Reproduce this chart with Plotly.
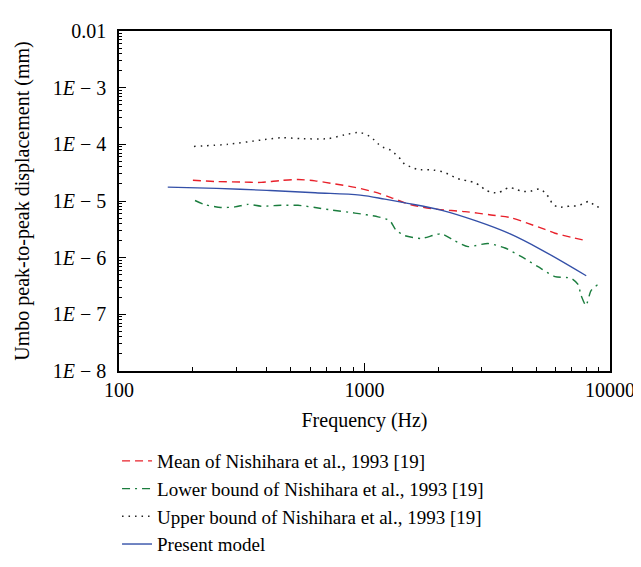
import plotly.graph_objects as go

# ---- data ----
mean_f = [200, 246, 314, 379, 457, 536, 629, 758, 915, 1104, 1282, 1546, 1993, 2566, 3274, 3950, 4634, 5434, 5970, 6940, 7980]
mean_v = [2.33e-5, 2.21e-5, 2.16e-5, 2.13e-5, 2.30e-5, 2.39e-5, 2.27e-5, 2.00e-5, 1.74e-5, 1.43e-5, 1.15e-5,
          8.6e-6, 7.1e-6, 6.5e-6, 5.67e-6, 5.06e-6, 4.03e-6, 3.15e-6, 2.7e-6, 2.29e-6, 2.0e-6]

lower_f = [204, 224, 260, 297, 335, 379, 457, 536, 629, 730, 915, 1135, 1270, 1343, 1462, 1699, 2050, 2337, 2642,
           3185, 3736, 4339, 5090, 5970, 6940, 7410, 7620, 7980, 8370, 8940]
lower_v = [1.02e-5, 8.6e-6, 7.67e-6, 7.88e-6, 8.73e-6, 8.1e-6, 8.4e-6, 8.4e-6, 7.67e-6, 6.95e-6, 6.12e-6, 5.26e-6,
           4.47e-6, 3.06e-6, 2.44e-6, 2.18e-6, 2.63e-6, 1.97e-6, 1.57e-6, 1.78e-6, 1.48e-6, 1.05e-6, 6.93e-7,
           4.63e-7, 4.34e-7, 3.38e-7, 2.17e-7, 1.43e-7, 2.62e-7, 3.38e-7]

upper_f = [202, 278, 379, 457, 551, 710, 857, 959, 1063, 1167, 1282, 1408, 1460, 1546, 1651, 1848, 2089, 2200,
           2337, 2480, 2642, 2800, 2953, 3100, 3274, 3497, 3700, 3900, 4140, 4420, 4722, 5000, 5236, 5500, 5700,
           5800, 6140, 6560, 6940, 7340, 7764, 8210, 8610, 9020]
upper_v = [9.2e-5, 1.0e-4, 1.19e-4, 1.31e-4, 1.26e-4, 1.26e-4, 1.52e-4, 1.62e-4, 1.34e-4, 9.2e-5, 7.8e-5, 5.4e-5,
           4.4e-5, 4.0e-5, 3.57e-5, 3.57e-5, 3.28e-5, 2.96e-5, 2.61e-5, 2.36e-5, 2.27e-5, 2.11e-5, 1.88e-5,
           1.57e-5, 1.43e-5, 1.39e-5, 1.57e-5, 1.74e-5, 1.6e-5, 1.48e-5, 1.48e-5, 1.6e-5, 1.63e-5, 1.3e-5,
           1.11e-5, 9.06e-6, 7.8e-6, 7.9e-6, 8.2e-6, 8.2e-6, 8.9e-6, 9.9e-6, 8.5e-6, 7.7e-6]

model_f = [158, 250, 400, 630, 960, 1210, 1500, 2050, 2850, 3900, 5300, 8000]
model_v = [1.76e-5, 1.67e-5, 1.54e-5, 1.40e-5, 1.27e-5, 1.08e-5, 9.1e-6, 6.9e-6, 4.45e-6, 2.65e-6, 1.35e-6, 4.8e-7]

x_tickvals = [100, 1000, 10000]
x_ticktext = ["100", "1000", "10000"]
y_tickvals = [1e-2, 1e-3, 1e-4, 1e-5, 1e-6, 1e-7, 1e-8]
y_ticktext = ["0.01", "1<i>E</i> − 3", "1<i>E</i> − 4", "1<i>E</i> − 5", "1<i>E</i> − 6", "1<i>E</i> − 7", "1<i>E</i> − 8"]

names = ["Mean of Nishihara et al., 1993 [19]",
         "Lower bound of Nishihara et al., 1993 [19]",
         "Upper bound of Nishihara et al., 1993 [19]",
         "Present model"]

FONT = "Liberation Serif"

fig = go.Figure()
fig.add_trace(go.Scatter(x=mean_f, y=mean_v, mode="lines", name=names[0],
                         line=dict(color="#e8202a", width=1.4, dash="8px,5px", shape="spline", smoothing=0.8)))
fig.add_trace(go.Scatter(x=lower_f, y=lower_v, mode="lines", name=names[1],
                         line=dict(color="#1b7d3e", width=1.4, dash="8px,5px,2px,5px", shape="spline", smoothing=0.6)))
fig.add_trace(go.Scatter(x=upper_f, y=upper_v, mode="lines", name=names[2],
                         line=dict(color="#222222", width=1.5, dash="1.5px,5px", shape="spline", smoothing=0.6)))
fig.add_trace(go.Scatter(x=model_f, y=model_v, mode="lines", name=names[3],
                         line=dict(color="#3450a8", width=1.4, shape="spline", smoothing=1.0)))

fig.update_layout(
    width=641, height=567,
    margin=dict(l=111, r=39, t=16, b=185),
    paper_bgcolor="white", plot_bgcolor="white",
    font=dict(family=FONT, size=20, color="black"),
    showlegend=True,
    legend=dict(x=-0.004, y=-0.209, xanchor="left", yanchor="top",
                font=dict(family=FONT, size=19, color="black"),
                bgcolor="rgba(0,0,0,0)", tracegroupgap=0, itemwidth=30),
)

fig.update_xaxes(
    type="log", range=[2, 4],
    tickmode="array", tickvals=x_tickvals, ticktext=x_ticktext,
    ticks="inside", ticklen=8, tickwidth=1, tickcolor="black",
    minor=dict(ticks="inside", ticklen=4, tickcolor="black", dtick="D1", showgrid=False),
    showline=True, linecolor="black", linewidth=1.5, mirror=True,
    showgrid=False, zeroline=False,
    tickfont=dict(family=FONT, size=20),
    title=dict(text="Frequency (Hz)", font=dict(family=FONT, size=20), standoff=13),
)
fig.update_yaxes(
    type="log", range=[-8, -2],
    tickmode="array", tickvals=y_tickvals, ticktext=y_ticktext,
    ticks="inside", ticklen=7, tickwidth=1, tickcolor="black",
    ticklabelstandoff=7,
    minor=dict(ticks="inside", ticklen=3.5, tickcolor="black", dtick="D1", showgrid=False),
    showline=True, linecolor="black", linewidth=1.5, mirror=True,
    showgrid=False, zeroline=False,
    tickfont=dict(family=FONT, size=20),
    title=dict(text="Umbo peak-to-peak displacement (mm)", font=dict(family=FONT, size=20), standoff=18),
)

fig.write_html("out.html")
